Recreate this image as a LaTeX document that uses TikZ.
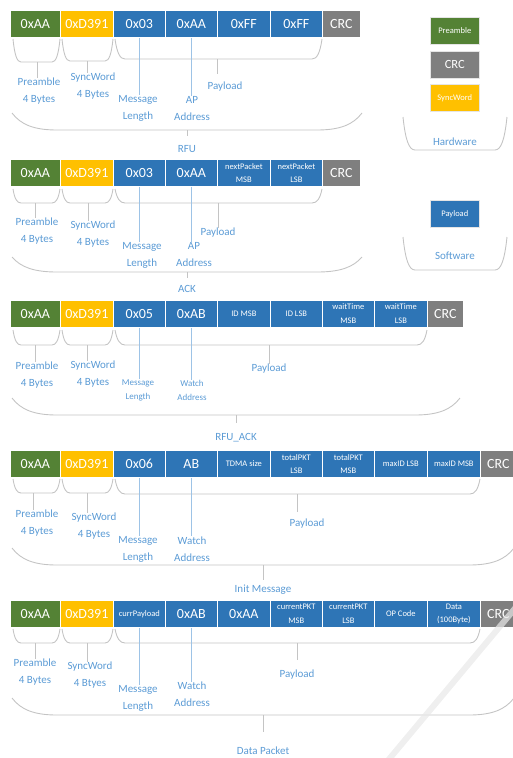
\documentclass[tikz,border=0pt]{standalone}
\usepackage{fontspec}
\setmainfont{Carlito}
\definecolor{pgreen}{HTML}{548235}
\definecolor{pyellow}{HTML}{FFC000}
\definecolor{pblue}{HTML}{2E75B6}
\definecolor{pgray}{HTML}{7F7F7F}
\definecolor{lblue}{HTML}{5B9BD5}
\definecolor{mblue}{HTML}{9DC3E6}
\definecolor{bgray}{HTML}{C4C4C4}
\newcommand\pktbrace[5]{\draw[brace] (#1,#3) .. controls (#1+0.2*#5,#3+0.7*#4-0.7*#3) and (#1+0.5*#5,#4) .. (#1+#5,#4) -- (#2-#5,#4) .. controls (#2-0.5*#5,#4) and (#2-0.2*#5,#3+0.7*#4-0.7*#3) .. (#2,#3);}
\begin{document}
\begin{tikzpicture}[x=1pt,y=-1pt,
  cell/.style={draw=white, line width=0.7pt, anchor=north west, minimum height=27pt, inner sep=0pt, text=white, align=center, font=\fontsize{14}{14}\selectfont},
  sm/.style={font=\fontsize{8.5}{13.5}\selectfont},
  gcell/.style={cell, fill=pgreen},
  ycell/.style={cell, fill=pyellow},
  bcell/.style={cell, fill=pblue},
  ccell/.style={cell, fill=pgray},
  lbl/.style={text=lblue, align=center, inner sep=0pt, font=\fontsize{11}{17}\selectfont},
  slbl/.style={lbl, font=\fontsize{9}{14}\selectfont},
  brace/.style={draw=bgray, line width=0.9pt},
  ml/.style={draw=mblue, line width=1.2pt},
  lgbox/.style={draw=white!80!gray, line width=0.6pt, minimum width=49pt, minimum height=27pt, anchor=north west, inner sep=0pt, text=white}
]
\useasboundingbox (0,0) rectangle (513,758);
\clip (0,0) rectangle (513,758);

% ---------------- Packet 1 (RFU)
\node[gcell, minimum width=50pt] (p1c1) at (10,10) {0xAA};
\node[ycell, minimum width=53pt] (p1c2) at (60,10) {0xD391};
\node[bcell, minimum width=52pt] (p1c3) at (113,10) {0x03};
\node[bcell, minimum width=52pt] (p1c4) at (165,10) {0xAA};
\node[bcell, minimum width=53pt] (p1c5) at (217,10) {0xFF};
\node[bcell, minimum width=52pt] (p1c6) at (270,10) {0xFF};
\node[ccell, minimum width=38pt] (p1c7) at (322,10) {CRC};
\pktbrace{13}{60}{39}{62}{8}
\pktbrace{62}{113}{39}{61}{8}
\pktbrace{115}{322}{39}{59}{10}
\pktbrace{12}{362}{113}{130}{45}
\coordinate (p1bp) at (37,62);
\coordinate (p1bs) at (87,61);
\coordinate (p1bd) at (217,59);
\coordinate (p1bb) at (187,130);
\node[lbl] (p1lp) at (39,91.5) {Preamble\\4 Bytes};
\node[lbl] (p1ls) at (93,86.5) {SyncWord\\4 Bytes};
\node[lbl] (p1ld) at (225,87) {Payload};
\node[lbl] (p1lm) at (138,108.5) {Message\\Length};
\node[lbl] (p1la) at (192,108.5) {AP\\Address};
\node[lbl] (p1lt) at (187,149) {RFU};
\draw[brace] (p1bp) -- (p1bp |- p1lp.north);
\draw[brace] (p1bs) -- (p1bs |- p1ls.north);
\draw[brace] (p1bd) -- ++(0,15);
\draw[brace] (p1bb) -- ++(0,6);
\draw[ml] (p1c3.south) -- (p1c3.south |- p1lm.north);
\draw[ml] (p1c4.south) -- (p1c4.south |- p1la.north);

% ---------------- Packet 2 (ACK)
\node[gcell, minimum width=50pt] (p2c1) at (10,159) {0xAA};
\node[ycell, minimum width=53pt] (p2c2) at (60,159) {0xD391};
\node[bcell, minimum width=52pt] (p2c3) at (113,159) {0x03};
\node[bcell, minimum width=52pt] (p2c4) at (165,159) {0xAA};
\node[bcell, sm, minimum width=53pt] (p2c5) at (217,159) {nextPacket\\MSB};
\node[bcell, sm, minimum width=52pt] (p2c6) at (270,159) {nextPacket\\LSB};
\node[ccell, minimum width=38pt] (p2c7) at (322,159) {CRC};
\pktbrace{13}{60}{189}{203}{8}
\pktbrace{62}{113}{189}{203}{8}
\pktbrace{115}{322}{189}{203}{10}
\pktbrace{12}{362}{257}{272}{45}
\coordinate (p2bp) at (35,203);
\coordinate (p2bs) at (88,203);
\coordinate (p2bd) at (218,203);
\coordinate (p2bb) at (187,272);
\node[lbl] (p2lp) at (37,231.5) {Preamble\\4 Bytes};
\node[lbl] (p2ls) at (93,234.5) {SyncWord\\4 Bytes};
\node[lbl] (p2ld) at (218,233) {Payload};
\node[lbl] (p2lm) at (142,255) {Message\\Length};
\node[lbl] (p2la) at (194,255) {AP\\Address};
\node[lbl] (p2lt) at (187,289) {ACK};
\draw[brace] (p2bp) -- (p2bp |- p2lp.north);
\draw[brace] (p2bs) -- (p2bs |- p2ls.north);
\draw[brace] (p2bd) -- (p2bd |- p2ld.north);
\draw[brace] (p2bb) -- ++(0,6);
\draw[ml] (p2c3.south) -- (p2c3.south |- p2lm.north);
\draw[ml] (p2c4.south) -- (p2c4.south |- p2la.north);

% ---------------- Packet 3 (RFU_ACK)
\node[gcell, minimum width=50pt] (p3c1) at (10,300) {0xAA};
\node[ycell, minimum width=53pt] (p3c2) at (60,300) {0xD391};
\node[bcell, minimum width=52pt] (p3c3) at (113,300) {0x05};
\node[bcell, minimum width=52pt] (p3c4) at (165,300) {0xAB};
\node[bcell, sm, minimum width=53pt] (p3c5) at (217,300) {ID MSB};
\node[bcell, sm, minimum width=52pt] (p3c6) at (270,300) {ID LSB};
\node[bcell, sm, minimum width=52pt] (p3c7) at (322,300) {waitTime\\MSB};
\node[bcell, sm, minimum width=53pt] (p3c8) at (374,300) {waitTime\\LSB};
\node[ccell, minimum width=36pt] (p3c9) at (427,300) {CRC};
\pktbrace{13}{60}{330}{345}{8}
\pktbrace{62}{113}{330}{345}{8}
\pktbrace{115}{427}{330}{345}{10}
\pktbrace{12}{460}{398}{415}{45}
\coordinate (p3bp) at (35,345);
\coordinate (p3bs) at (87,345);
\coordinate (p3bd) at (269,345);
\coordinate (p3bb) at (236,415);
\node[lbl] (p3lp) at (37,375.5) {Preamble\\4 Bytes};
\node[lbl] (p3ls) at (93,374.5) {SyncWord\\4 Bytes};
\node[lbl] (p3ld) at (269,369) {Payload};
\node[slbl] (p3lm) at (138,390) {Message\\Length};
\node[slbl] (p3la) at (192,390) {Watch\\Address};
\node[lbl] (p3lt) at (236,438) {RFU\_ACK};
\draw[brace] (p3bp) -- (p3bp |- p3lp.north);
\draw[brace] (p3bs) -- (p3bs |- p3ls.north);
\draw[brace] (p3bd) -- (p3bd |- p3ld.north);
\draw[brace] (p3bb) -- ++(0,8);
\draw[ml] (p3c3.south) -- (p3c3.south |- p3lm.north);
\draw[ml] (p3c4.south) -- (p3c4.south |- p3la.north);

% ---------------- Packet 4 (Init Message)
\node[gcell, minimum width=50pt] (p4c1) at (10,450) {0xAA};
\node[ycell, minimum width=53pt] (p4c2) at (60,450) {0xD391};
\node[bcell, minimum width=52pt] (p4c3) at (113,450) {0x06};
\node[bcell, minimum width=52pt] (p4c4) at (165,450) {AB};
\node[bcell, sm, minimum width=53pt] (p4c5) at (217,450) {TDMA size};
\node[bcell, sm, minimum width=52pt] (p4c6) at (270,450) {totalPKT\\LSB};
\node[bcell, sm, minimum width=52pt] (p4c7) at (322,450) {totalPKT\\MSB};
\node[bcell, sm, minimum width=53pt] (p4c8) at (374,450) {maxID LSB};
\node[bcell, sm, minimum width=53pt] (p4c9) at (427,450) {maxID MSB};
\node[ccell, minimum width=36pt] (p4c10) at (480,450) {CRC};
\pktbrace{13}{60}{479}{493}{8}
\pktbrace{62}{113}{479}{493}{8}
\pktbrace{115}{480}{479}{494}{10}
\pktbrace{12}{514}{548}{565}{45}
\coordinate (p4bp) at (33,493);
\coordinate (p4bs) at (87,493);
\coordinate (p4bd) at (297,494);
\coordinate (p4bb) at (263,565);
\node[lbl] (p4lp) at (37,523.5) {Preamble\\4 Bytes};
\node[lbl] (p4ls) at (94,526) {SyncWord\\4 Bytes};
\node[lbl] (p4ld) at (307,524) {Payload};
\node[lbl] (p4lm) at (138,549) {Message\\Length};
\node[lbl] (p4la) at (192,549) {Watch\\Address};
\node[lbl] (p4lt) at (263,590) {Init Message};
\draw[brace] (p4bp) -- (p4bp |- p4lp.north);
\draw[brace] (p4bs) -- (p4bs |- p4ls.north);
\draw[brace] (p4bd) -- ++(0,18);
\draw[brace] (p4bb) -- ++(0,15);
\draw[ml] (p4c3.south) -- (p4c3.south |- p4lm.north);
\draw[ml] (p4c4.south) -- (p4c4.south |- p4la.north);

% ---------------- Packet 5 (Data Packet)
\node[gcell, minimum width=50pt] (p5c1) at (10,600) {0xAA};
\node[ycell, minimum width=53pt] (p5c2) at (60,600) {0xD391};
\node[bcell, sm, minimum width=52pt] (p5c3) at (113,600) {currPayload};
\node[bcell, minimum width=52pt] (p5c4) at (165,600) {0xAB};
\node[bcell, minimum width=53pt] (p5c5) at (217,600) {0xAA};
\node[bcell, sm, minimum width=52pt] (p5c6) at (270,600) {currentPKT\\MSB};
\node[bcell, sm, minimum width=52pt] (p5c7) at (322,600) {currentPKT\\LSB};
\node[bcell, sm, minimum width=53pt] (p5c8) at (374,600) {OP Code};
\node[bcell, sm, minimum width=53pt] (p5c9) at (427,600) {Data\\(100Byte)};
\node[ccell, minimum width=36pt] (p5c10) at (480,600) {CRC};
\pktbrace{13}{60}{629}{643}{8}
\pktbrace{62}{113}{629}{643}{8}
\pktbrace{115}{480}{629}{643}{10}
\pktbrace{12}{514}{698}{715}{45}
\coordinate (p5bp) at (35,643);
\coordinate (p5bs) at (87,643);
\coordinate (p5bd) at (297,643);
\coordinate (p5bb) at (263,715);
\node[lbl] (p5lp) at (35,672.5) {Preamble\\4 Bytes};
\node[lbl] (p5ls) at (90,675.5) {SyncWord\\4 Btyes};
\node[lbl] (p5ld) at (297,675) {Payload};
\node[lbl] (p5lm) at (138,698.5) {Message\\Length};
\node[lbl] (p5la) at (192,694.5) {Watch\\Address};
\node[lbl] (p5lt) at (263,751) {Data Packet};
\draw[brace] (p5bp) -- (p5bp |- p5lp.north);
\draw[brace] (p5bs) -- (p5bs |- p5ls.north);
\draw[brace] (p5bd) -- ++(0,17);
\draw[brace] (p5bb) -- ++(0,17);
\draw[ml] (p5c3.south) -- (p5c3.south |- p5lm.north);
\draw[ml] (p5c4.south) -- (p5c4.south |- p5la.north);

% ---------------- Legend
\node[lgbox, fill=pgreen, font=\fontsize{8.5}{9}\selectfont] (lgp) at (430,17) {Preamble};
\node[lgbox, fill=pgray, font=\fontsize{12.5}{13}\selectfont] (lgc) at (430,51) {CRC};
\node[lgbox, fill=pyellow, font=\fontsize{8.5}{9}\selectfont] (lgs) at (430,84) {SyncWord};
\pktbrace{403}{507}{117}{150}{12}
\node[lbl] (lgh) at (455,142) {Hardware};
\node[lgbox, fill=pblue, font=\fontsize{8.5}{9}\selectfont] (lgd) at (430,200) {Payload};
\pktbrace{403}{507}{237}{270}{12}
\node[lbl] (lgw) at (455,256) {Software};

% faint diagonal stroke
\draw[line width=6pt, color=gray!18, opacity=0.7] (517,606) -- (385,764);
\end{tikzpicture}
\end{document}
